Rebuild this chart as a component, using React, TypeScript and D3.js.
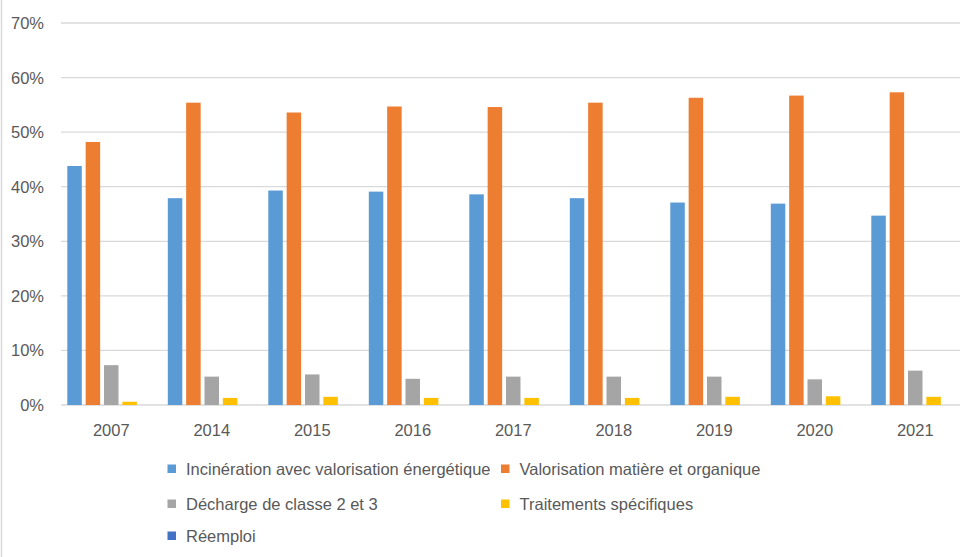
import React from "react";
import * as d3 from "d3";

// years on the x axis
const years = ["2007", "2014", "2015", "2016", "2017", "2018", "2019", "2020", "2021"];

// share of each treatment, in percent
const incineration = [43.8, 37.9, 39.3, 39.1, 38.6, 37.9, 37.1, 36.9, 34.7];
const valorisation = [48.2, 55.4, 53.6, 54.7, 54.6, 55.4, 56.3, 56.7, 57.3];
const decharge = [7.3, 5.2, 5.6, 4.8, 5.2, 5.2, 5.2, 4.7, 6.3];
const traitements = [0.6, 1.3, 1.5, 1.3, 1.3, 1.3, 1.5, 1.6, 1.5];
const reemploi = [0, 0, 0, 0, 0, 0, 0, 0, 0];

const seriesNames = [
  "Incinération avec valorisation énergétique",
  "Valorisation matière et organique",
  "Décharge de classe 2 et 3",
  "Traitements spécifiques",
  "Réemploi",
];
const seriesColors = ["#5B9BD5", "#ED7D31", "#A5A5A5", "#FFC000", "#4472C4"];
const seriesValues = [incineration, valorisation, decharge, traitements, reemploi];

const yTicks = [0, 10, 20, 30, 40, 50, 60, 70];

const W = 960;
const H = 557;
const FONT = "'Liberation Sans', Arial, sans-serif";
const TEXT = "#595959";

export default function App() {
  const x0 = d3.scaleBand<string>().domain(years).range([61, 965.5]);
  const x1 = d3
    .scaleBand<string>()
    .domain(seriesNames)
    .range([6.3, x0.bandwidth() - 6.3])
    .paddingInner(0.21);
  const y = d3.scaleLinear().domain([0, 70]).range([405, 23]);

  // legend rows, two columns as in the original
  const legendCols = [167.5, 501];
  const legendRows = [469, 504, 536];

  return (
    <svg
      width={W}
      height={H}
      style={{ position: "absolute", left: 0, top: 0, background: "#fff" }}
      fontFamily={FONT}
    >
      <rect x={0} y={0} width={W} height={H} fill="#fff" />
      <line x1={1.5} x2={1.5} y1={0} y2={H} stroke="#D9D9D9" strokeWidth={1.5} />

      {yTicks.map((t) => (
        <g key={t}>
          <line x1={61} x2={W} y1={y(t)} y2={y(t)} stroke="#D9D9D9" strokeWidth={1.3} />
          <text x={44} y={y(t)} dy="0.36em" textAnchor="end" fontSize={16.5} fill={TEXT}>
            {t}%
          </text>
        </g>
      ))}

      {years.map((yr, i) => (
        <g key={yr} transform={`translate(${x0(yr)},0)`}>
          {seriesNames.map((s, k) => {
            const v = seriesValues[k][i];
            if (v <= 0) return null;
            return (
              <rect
                key={s}
                x={x1(s)}
                y={y(v)}
                width={x1.bandwidth()}
                height={y(0) - y(v)}
                fill={seriesColors[k]}
              />
            );
          })}
          <text
            x={x0.bandwidth() / 2}
            y={435.5}
            textAnchor="middle"
            fontSize={16.5}
            fill={TEXT}
          >
            {yr}
          </text>
        </g>
      ))}

      {seriesNames.map((s, k) => {
        const cx = legendCols[k % 2];
        const cy = legendRows[Math.floor(k / 2)];
        return (
          <g key={s}>
            <rect x={cx} y={cy - 4.5} width={8.5} height={8.5} fill={seriesColors[k]} />
            <text x={cx + 18.5} y={cy} dy="0.36em" fontSize={16.5} fill={TEXT}>
              {s}
            </text>
          </g>
        );
      })}
    </svg>
  );
}
